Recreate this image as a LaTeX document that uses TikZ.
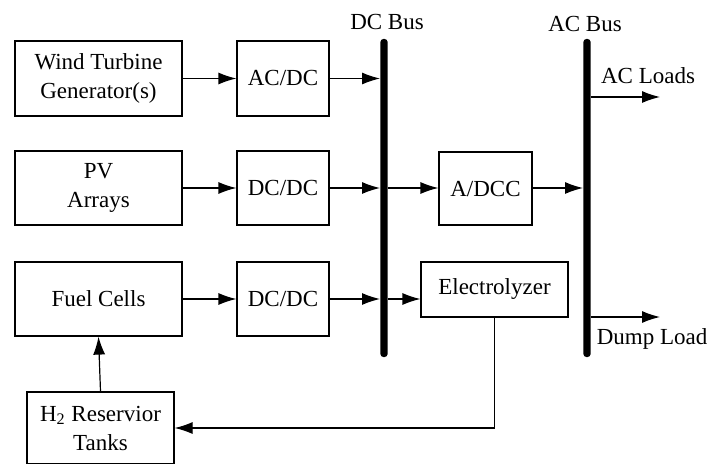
\documentclass[tikz,border=0pt]{standalone}
\usepackage{fontspec}
\setmainfont{Liberation Serif}
\newfontfamily\diagfont{Liberation Serif}
\usetikzlibrary{arrows.meta}
\begin{document}
\begin{tikzpicture}[x=0.5pt,y=-0.5pt,font=\diagfont\fontsize{11.5}{14.5}\selectfont,
  blk/.style={draw, line width=0.6pt, align=center, inner sep=0pt},
  bus/.style={fill=black, inner sep=0pt, minimum width=3.6pt, minimum height=159pt, rounded corners=1.5pt},
  flow/.style={-{Latex[length=9pt,width=6pt]}, line width=0.6pt}]
  \useasboundingbox (0,0) rectangle (710,464);
  \node[blk, minimum width=83.5pt, minimum height=37.5pt] (wind) at (98.5,78.5) {Wind Turbine\\Generator(s)};
  \node[blk, minimum width=46pt, minimum height=37.5pt] (acdc) at (283,78.5) {AC/DC};
  \node[blk, minimum width=83.5pt, minimum height=37pt] (pv) at (98.5,188) {PV\\Arrays};
  \node[blk, minimum width=46pt, minimum height=37pt] (dcdca) at (283,188) {DC/DC};
  \node[blk, minimum width=83.5pt, minimum height=37pt] (fuel) at (98.5,299) {Fuel Cells};
  \node[blk, minimum width=46pt, minimum height=37pt] (dcdcb) at (283,299) {DC/DC};
  \node[blk, minimum width=46.5pt, minimum height=36.5pt] (adcc) at (485.5,188.5) {A/DCC};
  \node[blk, minimum width=73.5pt, minimum height=27.5pt] (elec) at (494.5,289.5) {Electrolyzer};
  \node[blk, minimum width=73.5pt, minimum height=36pt] (tank) at (100.5,428) {H\textsubscript{2} Reservior\\Tanks};
  \node[bus] (dcbus) at (384,198) {};
  \node[bus] (acbus) at (587,198) {};
  \node (dclabel) at (387,22) {DC Bus};
  \node (aclabel) at (585,24) {AC Bus};
  \node (acload) at (648,76) {AC Loads};
  \node (dump) at (652,339) {Dump Load};
  \coordinate (acloadend) at (660,97);
  \coordinate (dumpend) at (660,317);
  \draw[flow] (wind.east) -- (acdc.west);
  \draw[flow] (pv.east) -- (dcdca.west);
  \draw[flow] (fuel.east) -- (dcdcb.west);
  \draw[flow] (acdc.east) -- (acdc.east -| dcbus.west);
  \draw[flow] (dcdca.east) -- (dcdca.east -| dcbus.west);
  \draw[flow] (dcdcb.east) -- (dcdcb.east -| dcbus.west);
  \draw[flow] (dcdca.east -| dcbus.east) -- (adcc.west |- dcdca.east);
  \draw[flow] (dcdcb.east -| dcbus.east) -- (elec.west |- dcdcb.east);
  \draw[flow] (adcc.east |- dcdca.east) -- (dcdca.east -| acbus.west);
  \draw[flow] (acloadend -| acbus.east) -- (acloadend);
  \draw[flow] (dumpend -| acbus.east) -- (dumpend);
  \draw[flow] (elec.south) |- (tank.east);
  \draw[flow] (tank.north) -- (fuel.south);
\end{tikzpicture}
\end{document}
